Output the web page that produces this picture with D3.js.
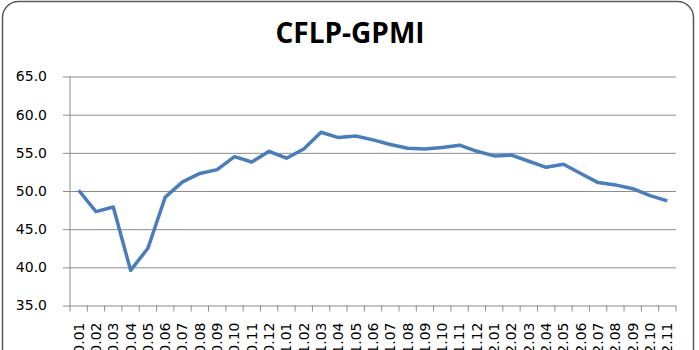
<!DOCTYPE html>
<html>
<head>
<meta charset="utf-8">
<script src="https://cdn.jsdelivr.net/npm/d3@7"></script>
<style>
  body { margin: 0; background: #fff; overflow: hidden; }
</style>
</head>
<body>
<div id="chart"></div>
<script>
// months shown on the x axis
var months = ["2020.01", "2020.02", "2020.03", "2020.04", "2020.05", "2020.06",
              "2020.07", "2020.08", "2020.09", "2020.10", "2020.11", "2020.12",
              "2021.01", "2021.02", "2021.03", "2021.04", "2021.05", "2021.06",
              "2021.07", "2021.08", "2021.09", "2021.10", "2021.11", "2021.12",
              "2022.01", "2022.02", "2022.03", "2022.04", "2022.05", "2022.06",
              "2022.07", "2022.08", "2022.09", "2022.10", "2022.11"];

// index values
var gpmi = [50.1, 47.3, 47.9, 39.6, 42.5, 49.2, 51.2, 52.3, 52.8, 54.5, 53.8, 55.2,
            54.3, 55.5, 57.7, 57.0, 57.2, 56.7, 56.1, 55.6, 55.5, 55.7, 56.0, 55.2,
            54.6, 54.7, 53.9, 53.1, 53.5, 52.3, 51.1, 50.8, 50.3, 49.4, 48.7];

var yTicks = [35, 40, 45, 50, 55, 60, 65];

var width = 699;
var height = 350;
var margin = {left: 70, right: 23, top: 76.5, bottom: 44.5};

var svg = d3.select("#chart").append("svg")
    .attr("width", width)
    .attr("height", height);

// outer frame
svg.append("rect")
    .attr("x", 2.5)
    .attr("y", 1.5)
    .attr("width", 691)
    .attr("height", 380)
    .attr("rx", 16)
    .attr("fill", "#fff")
    .attr("stroke", "#595959")
    .attr("stroke-width", 1.5);

svg.append("text")
    .attr("x", 350)
    .attr("y", 43)
    .attr("text-anchor", "middle")
    .attr("font-family", "Open Sans")
    .attr("font-weight", "bold")
    .attr("font-size", 28)
    .attr("fill", "#000")
    .text("CFLP-GPMI");

var x = d3.scaleBand()
    .domain(months)
    .range([margin.left, width - margin.right]);

var y = d3.scaleLinear()
    .domain([35, 65])
    .range([height - margin.bottom, margin.top]);

// horizontal grid
var yAxis = d3.axisLeft(y)
    .tickValues(yTicks)
    .tickSize(-(width - margin.right - margin.left) - 7)
    .tickPadding(16)
    .tickFormat(d3.format(".1f"));

var gy = svg.append("g")
    .attr("transform", "translate(" + (margin.left - 7) + ",0)")
    .call(yAxis);
gy.select(".domain").remove();
gy.selectAll(".tick line").attr("stroke", "#8c8c8c").attr("stroke-width", 1);
gy.selectAll(".tick text")
    .attr("font-family", "DejaVu Sans")
    .attr("font-size", 14)
    .attr("fill", "#000");

// left axis line
svg.append("line")
    .attr("x1", margin.left).attr("x2", margin.left)
    .attr("y1", y(65)).attr("y2", y(35))
    .attr("stroke", "#8c8c8c");

// bottom ticks sit between the categories
var bounds = months.map(function (m) { return x(m); });
bounds.push(width - margin.right);
svg.selectAll(".xtick")
    .data(bounds)
    .enter()
    .append("line")
    .attr("class", "xtick")
    .attr("x1", function (d) { return d; })
    .attr("x2", function (d) { return d; })
    .attr("y1", y(35))
    .attr("y2", y(35) + 6)
    .attr("stroke", "#8c8c8c");

svg.selectAll(".xlabel")
    .data(months)
    .enter()
    .append("text")
    .attr("class", "xlabel")
    .attr("transform", function (d) {
        return "translate(" + (x(d) + x.bandwidth() / 2) + "," + (y(35) + 17) + ") rotate(-90)";
    })
    .attr("text-anchor", "end")
    .attr("dy", "0.35em")
    .attr("font-family", "DejaVu Sans")
    .attr("font-size", 14)
    .attr("fill", "#000")
    .text(function (d) { return d; });

var line = d3.line()
    .x(function (d, i) { return x(months[i]) + x.bandwidth() / 2; })
    .y(function (d) { return y(d); });

svg.append("path")
    .datum(gpmi)
    .attr("d", line)
    .attr("fill", "none")
    .attr("stroke", "#4a7ebb")
    .attr("stroke-width", 3.5)
    .attr("stroke-linejoin", "round");
</script>
</body>
</html>
